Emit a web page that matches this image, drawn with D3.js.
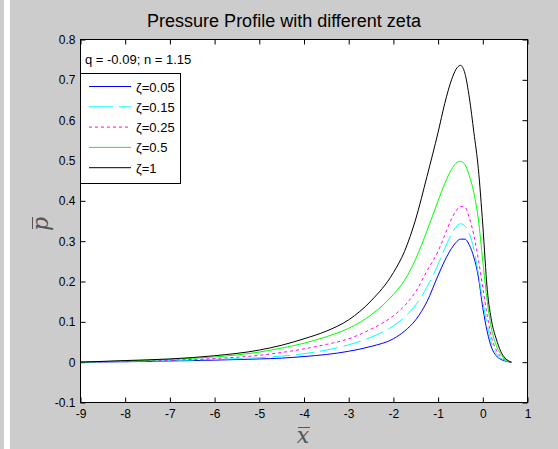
<!DOCTYPE html>
<html>
<head>
<meta charset="utf-8">
<script src="https://cdn.jsdelivr.net/npm/d3@7"></script>
<style>
  body { margin: 0; background: #cccccc; }
  svg { display: block; font-family: "Liberation Sans", Arial, sans-serif; }
</style>
</head>
<body>
<div class="canvas"></div>
<script>
// x grid shared by every curve
const xs = [-9, -8, -7, -6, -5, -4.5, -4, -3.5, -3, -2.5, -2, -1.75, -1.5, -1.25, -1, -0.85, -0.7, -0.6, -0.5,
  -0.4, -0.3, -0.2, -0.1, 0, 0.1, 0.2, 0.3, 0.4, 0.5, 0.58, 0.64];

const zeta005 = [0, 0.001, 0.003, 0.005, 0.008, 0.01, 0.014, 0.019, 0.027, 0.039, 0.058, 0.077, 0.105, 0.15, 0.215, 0.252,
  0.282, 0.297, 0.305, 0.305, 0.29, 0.26, 0.212, 0.135, 0.075, 0.035, 0.016, 0.007, 0.003, 0.001, 0];
const zeta015 = [0, 0.002, 0.004, 0.007, 0.011, 0.015, 0.021, 0.03, 0.043, 0.062, 0.09, 0.112, 0.142, 0.186, 0.242, 0.282,
  0.318, 0.335, 0.343, 0.338, 0.318, 0.28, 0.22, 0.15, 0.092, 0.045, 0.022, 0.01, 0.004, 0.001, 0];
const zeta025 = [0, 0.002, 0.005, 0.009, 0.017, 0.024, 0.033, 0.044, 0.058, 0.082, 0.115, 0.14, 0.175, 0.226, 0.275, 0.315,
  0.355, 0.375, 0.386, 0.384, 0.357, 0.315, 0.255, 0.185, 0.115, 0.06, 0.03, 0.014, 0.005, 0.001, 0];
const zeta05 = [0, 0.003, 0.007, 0.013, 0.025, 0.035, 0.047, 0.063, 0.084, 0.117, 0.168, 0.203, 0.256, 0.325, 0.4, 0.443,
  0.478, 0.493, 0.498, 0.49, 0.462, 0.42, 0.355, 0.25, 0.15, 0.08, 0.042, 0.02, 0.007, 0.002, 0];
const zeta1 = [0, 0.004, 0.008, 0.016, 0.03, 0.042, 0.058, 0.077, 0.105, 0.152, 0.222, 0.275, 0.355, 0.46, 0.57, 0.642,
  0.7, 0.726, 0.736, 0.716, 0.655, 0.57, 0.48, 0.34, 0.18, 0.1, 0.058, 0.027, 0.01, 0.003, 0];

const seriesNames = ["ζ=0.05", "ζ=0.15", "ζ=0.25", "ζ=0.5", "ζ=1"];
const seriesValues = [zeta005, zeta015, zeta025, zeta05, zeta1];
const seriesColors = ["#0000ff", "#00ffff", "#ff00ff", "#00ff00", "#000000"];
const seriesDash = [null, "18,6", "3,3", null, null];

const xTicks = [-9, -8, -7, -6, -5, -4, -3, -2, -1, 0, 1];
const yTicks = [-0.1, 0, 0.1, 0.2, 0.3, 0.4, 0.5, 0.6, 0.7, 0.8];

const W = 558, H = 449;
const pl = 80.5, pr = 527.5, pt = 39.5, pb = 402.5;

const svg = d3.select(".canvas").append("svg").attr("width", W).attr("height", H);

svg.append("rect").attr("width", W).attr("height", H).attr("fill", "#cccccc");
svg.append("rect").attr("x", 4).attr("width", 6).attr("height", H).attr("fill", "#ffffff");

const x = d3.scaleLinear([-9, 1], [pl, pr]);
const y = d3.scaleLinear([-0.1, 0.8], [pb, pt]);

svg.append("rect")
  .attr("x", pl).attr("y", pt)
  .attr("width", pr - pl).attr("height", pb - pt)
  .attr("fill", "#ffffff");

const fmt = d => String(+d.toFixed(1));

svg.append("g").attr("transform", `translate(0,${pb})`)
  .call(d3.axisBottom(x).tickValues(xTicks).tickSize(-5).tickPadding(7).tickFormat(fmt));
svg.append("g").attr("transform", `translate(${pl},0)`)
  .call(d3.axisLeft(y).tickValues(yTicks).tickSize(-5).tickPadding(5).tickFormat(fmt));
svg.append("g").attr("transform", `translate(0,${pt})`)
  .call(d3.axisTop(x).tickValues(xTicks).tickSize(-5).tickFormat(""));
svg.append("g").attr("transform", `translate(${pr},0)`)
  .call(d3.axisRight(y).tickValues(yTicks).tickSize(-5).tickFormat(""));

svg.selectAll(".domain").remove();
svg.selectAll(".tick line").attr("stroke", "#000");
svg.selectAll(".tick text").attr("fill", "#000").style("font-size", "12px")
  .style("font-family", "'Liberation Sans', Arial, sans-serif");

const line = d3.line().x((d, i) => x(xs[i])).y(d => y(d)).curve(d3.curveMonotoneX);

svg.append("g").selectAll("path")
  .data(seriesValues)
  .join("path")
  .attr("d", d => line(d))
  .attr("fill", "none")
  .attr("stroke", (d, i) => seriesColors[i])
  .attr("stroke-width", 1)
  .attr("stroke-dasharray", (d, i) => seriesDash[i]);

svg.append("rect")
  .attr("x", pl).attr("y", pt)
  .attr("width", pr - pl).attr("height", pb - pt)
  .attr("fill", "none").attr("stroke", "#000");

// title
svg.append("text").attr("x", 284).attr("y", 27).attr("text-anchor", "middle")
  .style("font-size", "18px").text("Pressure Profile with different zeta");

// annotation
svg.append("text").attr("x", 85).attr("y", 64).style("font-size", "13px").text("q = -0.09; n = 1.15");

// legend
const leg = svg.append("g");
leg.append("rect").attr("x", 80.5).attr("y", 73.5).attr("width", 100).attr("height", 110)
  .attr("fill", "#fff").attr("stroke", "#000");
const rows = leg.selectAll("g").data(seriesNames).join("g")
  .attr("transform", (d, i) => `translate(0,${86.5 + i * 20.3})`);
rows.append("line").attr("x1", 89).attr("x2", 131)
  .attr("stroke", (d, i) => seriesColors[i])
  .attr("stroke-dasharray", (d, i) => seriesDash[i] ? (i === 1 ? "24,6" : "3,3") : null);
rows.append("text").attr("x", 136).attr("y", 5).style("font-size", "13px").text(d => d);

// axis labels
const xl = svg.append("g").attr("transform", "translate(303,443)");
xl.append("text").attr("text-anchor", "middle")
  .style("font-family", "'DejaVu Serif', 'Liberation Serif', serif").style("font-style", "italic")
  .style("font-size", "22px").style("fill", "#555").text("x");
xl.append("line").attr("x1", -5).attr("x2", 7).attr("y1", -15.5).attr("y2", -15.5).attr("stroke", "#555");

const yl = svg.append("g").attr("transform", "translate(48,224) rotate(-90)");
yl.append("text").attr("text-anchor", "middle")
  .style("font-family", "'DejaVu Serif', 'Liberation Serif', serif").style("font-style", "italic")
  .style("font-size", "22px").style("fill", "#555").text("p");
yl.append("line").attr("x1", -5).attr("x2", 7).attr("y1", -15.5).attr("y2", -15.5).attr("stroke", "#555");
</script>
</body>
</html>
